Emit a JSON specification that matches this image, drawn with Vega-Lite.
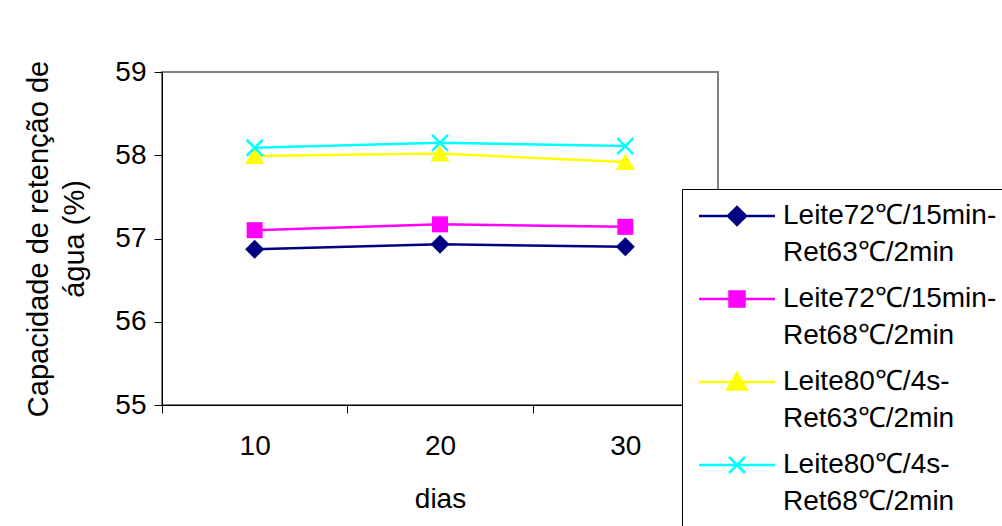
{
  "$schema": "https://vega.github.io/schema/vega-lite/v6.json",
  "width": 556,
  "height": 333,
  "autosize": {"type": "none"},
  "padding": {"left": 162, "top": 72, "right": 284, "bottom": 121},
  "background": "white",
  "config": {
    "view": {"stroke": "#808080", "strokeWidth": 2},
    "font": "Liberation Sans"
  },
  "data": {
    "values": [
      {"dias": "10", "serie": "Leite72℃/15min-Ret63℃/2min", "valor": 56.87},
      {"dias": "20", "serie": "Leite72℃/15min-Ret63℃/2min", "valor": 56.93},
      {"dias": "30", "serie": "Leite72℃/15min-Ret63℃/2min", "valor": 56.90},
      {"dias": "10", "serie": "Leite72℃/15min-Ret68℃/2min", "valor": 57.10},
      {"dias": "20", "serie": "Leite72℃/15min-Ret68℃/2min", "valor": 57.17},
      {"dias": "30", "serie": "Leite72℃/15min-Ret68℃/2min", "valor": 57.14},
      {"dias": "10", "serie": "Leite80℃/4s-Ret63℃/2min", "valor": 57.99},
      {"dias": "20", "serie": "Leite80℃/4s-Ret63℃/2min", "valor": 58.02},
      {"dias": "30", "serie": "Leite80℃/4s-Ret63℃/2min", "valor": 57.92},
      {"dias": "10", "serie": "Leite80℃/4s-Ret68℃/2min", "valor": 58.09},
      {"dias": "20", "serie": "Leite80℃/4s-Ret68℃/2min", "valor": 58.15},
      {"dias": "30", "serie": "Leite80℃/4s-Ret68℃/2min", "valor": 58.11}
    ]
  },
  "encoding": {
    "x": {
      "field": "dias",
      "type": "ordinal",
      "sort": ["10", "20", "30"],
      "scale": {"type": "band", "paddingInner": 0, "paddingOuter": 0},
      "axis": {
        "title": "dias",
        "tickBand": "extent",
        "labelAngle": 0,
        "labelFontSize": 28,
        "titleFontSize": 28,
        "titleFontWeight": "normal",
        "tickSize": 8,
        "labelPadding": 19,
        "titlePadding": 25,
        "domainColor": "#000000",
        "tickColor": "#000000",
        "labelColor": "#000000",
        "titleColor": "#000000",
        "grid": false
      }
    },
    "y": {
      "field": "valor",
      "type": "quantitative",
      "scale": {"domain": [55, 59], "nice": false, "zero": false},
      "axis": {
        "title": ["Capacidade de retenção de", "água (%)"],
        "values": [55, 56, 57, 58, 59],
        "grid": false,
        "tickSize": 8,
        "labelPadding": 8,
        "labelFontSize": 28,
        "titleFontSize": 29,
        "titleFontWeight": "normal",
        "titleLineHeight": 36,
        "titlePadding": 25,
        "domainColor": "#000000",
        "tickColor": "#000000",
        "labelColor": "#000000",
        "titleColor": "#000000"
      }
    },
    "color": {
      "field": "serie",
      "type": "nominal",
      "scale": {
        "domain": ["Leite72℃/15min-Ret63℃/2min", "Leite72℃/15min-Ret68℃/2min", "Leite80℃/4s-Ret63℃/2min", "Leite80℃/4s-Ret68℃/2min"],
        "range": ["#000080", "#FF00FF", "#FFFF00", "#00FFFF"]
      },
      "legend": {
        "title": null,
        "orient": "none",
        "legendX": 520,
        "legendY": 117,
        "padding": 13,
        "strokeColor": "#000000",
        "fillColor": "#ffffff",
        "symbolSize": 400,
        "symbolStrokeWidth": 2.5,
        "labelFontSize": 28,
        "labelColor": "#000000",
        "labelOffset": 60,
        "labelLimit": 400,
        "rowPadding": 18,
        "labelExpr": "[substring(datum.label, 0, indexof(datum.label, '-') + 1), substring(datum.label, indexof(datum.label, '-') + 1)]",
        "encode": {
          "symbols": {
            "update": {
              "shape": {"signal": "['M-1,0H6.6M1.9,0L2.8,-0.9L3.7,0L2.8,0.9Z', 'M-1,0H6.6M2.05,-0.75H3.55V0.75H2.05Z', 'M-1,0H6.6M2.8,-0.9L3.75,0.75L1.85,0.75Z', 'M-1,0H6.6M2,-0.8L3.6,0.8M2,0.8L3.6,-0.8'][datum.index]"},
              "fill": {"signal": "scale('color', datum.value)"},
              "stroke": {"signal": "scale('color', datum.value)"},
              "strokeWidth": {"value": 2.5},
              "opacity": {"value": 1}
            }
          },
          "labels": {
            "update": {"lineHeight": {"value": 37}}
          }
        }
      }
    }
  },
  "layer": [
    {"mark": {"type": "line", "strokeWidth": 2.5}},
    {
      "transform": [{"filter": {"field": "serie", "equal": "Leite72℃/15min-Ret63℃/2min"}}],
      "mark": {"type": "point", "shape": "M-0.95,0L0,-0.95L0.95,0L0,0.95Z", "filled": true, "size": 400, "opacity": 1}
    },
    {
      "transform": [{"filter": {"field": "serie", "equal": "Leite72℃/15min-Ret68℃/2min"}}],
      "mark": {"type": "point", "shape": "M-0.8,-0.8H0.8V0.8H-0.8Z", "filled": true, "size": 400, "opacity": 1}
    },
    {
      "transform": [{"filter": {"field": "serie", "equal": "Leite80℃/4s-Ret63℃/2min"}}],
      "mark": {"type": "point", "shape": "M0,-0.85L0.95,0.8L-0.95,0.8Z", "filled": true, "size": 400, "opacity": 1}
    },
    {
      "transform": [{"filter": {"field": "serie", "equal": "Leite80℃/4s-Ret68℃/2min"}}],
      "mark": {"type": "point", "shape": "M-0.8,-0.8L0.8,0.8M-0.8,0.8L0.8,-0.8", "filled": false, "size": 400, "opacity": 1, "strokeWidth": 2.5}
    }
  ]
}
